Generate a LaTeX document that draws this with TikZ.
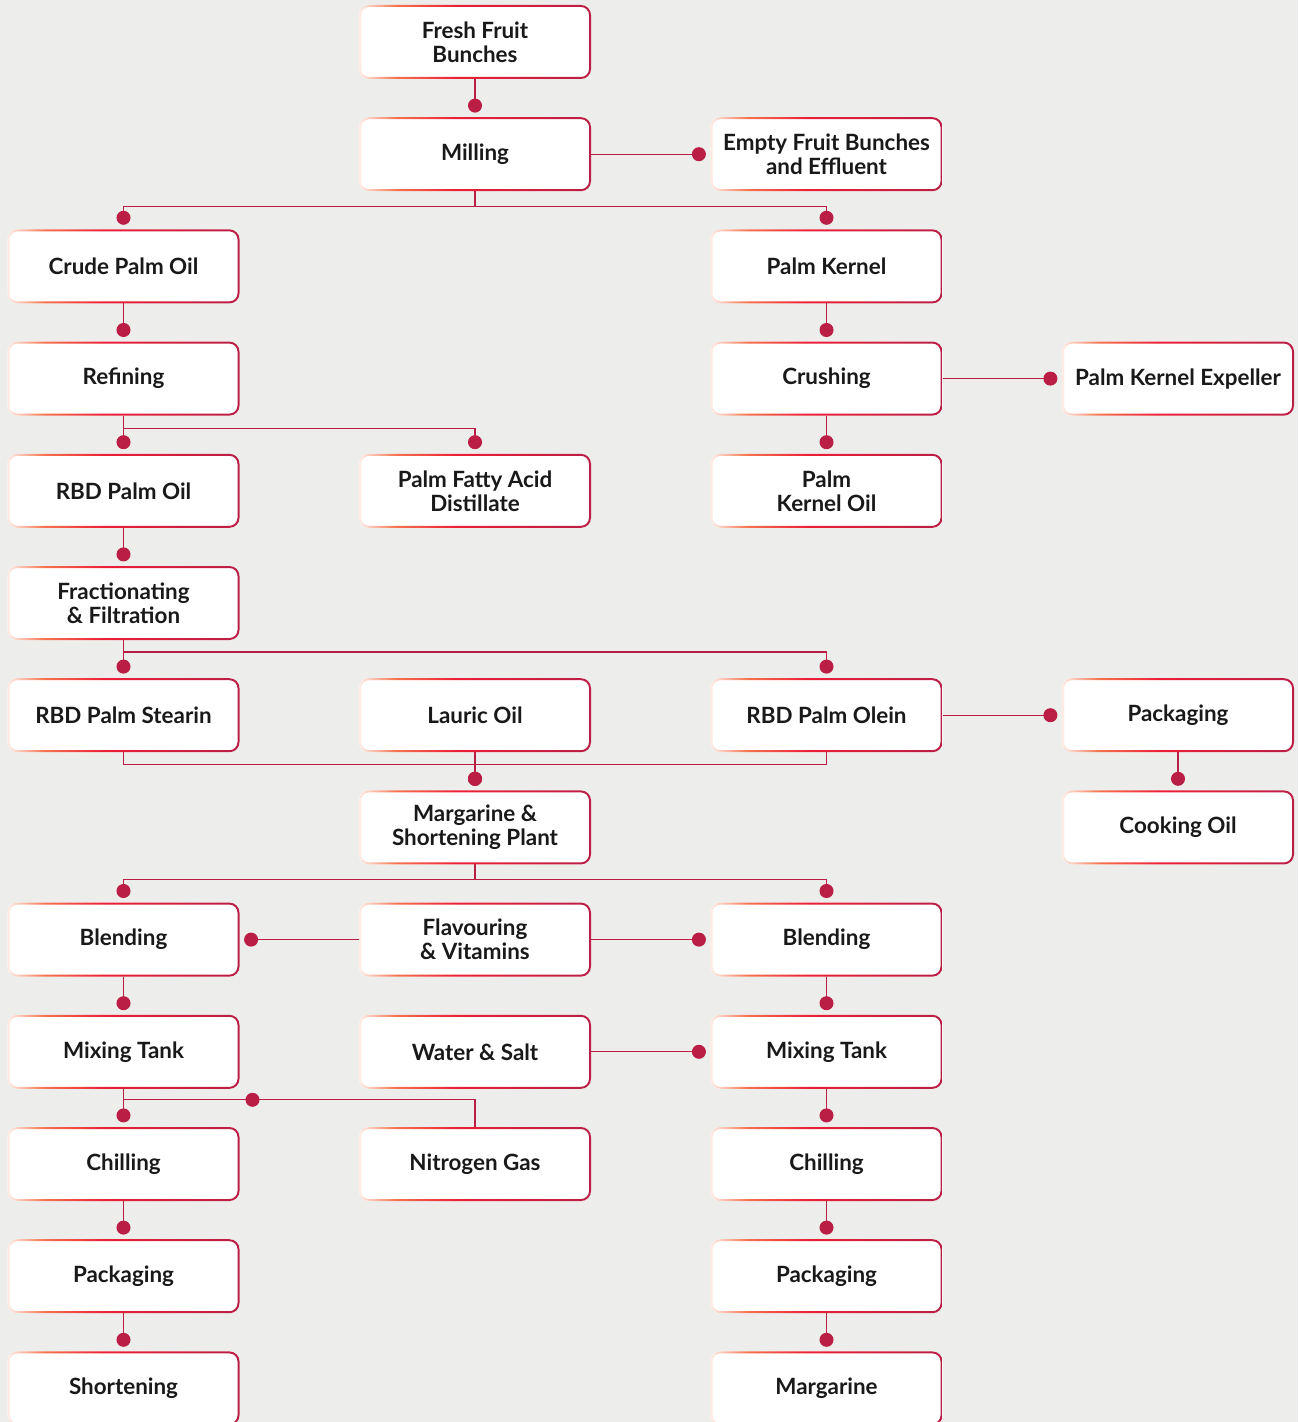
\documentclass[tikz,border=0pt]{standalone}
\usepackage{fontspec}
\setmainfont{Lato}
\usepackage{xcolor}
\definecolor{palmred}{HTML}{BA1E45}
\definecolor{rimlight}{HTML}{FFEDE6}
\definecolor{rimorange}{HTML}{F5734F}
\definecolor{rimmid}{HTML}{EC1F36}
\definecolor{bggray}{HTML}{EDEEEC}
\usepackage{tikz}
\usetikzlibrary{positioning,arrows.meta,calc}
\pgfdeclarehorizontalshading{rimshade}{100bp}{color(0bp)=(rimlight); color(25bp)=(rimlight);
  color(33bp)=(rimorange); color(46bp)=(rimmid); color(75bp)=(palmred); color(100bp)=(palmred)}
\tikzset{
  pbox/.style ={rectangle, rounded corners=5pt, fill=white, minimum width=116pt,
                minimum height=37pt, align=center, inner xsep=1pt, outer sep=0pt,
                font=\fontsize{11.2}{12}\selectfont\bfseries, text=black!90},
  rim/.style  ={shading=rimshade, even odd rule},
  link/.style ={draw=palmred, line width=0.65pt, -{Circle[length=7pt]}, shorten >=2.3pt},
  wire/.style ={draw=palmred, line width=0.65pt},
}

\begin{document}
\begin{tikzpicture}[x=0.5pt, y=-0.5pt, node distance=19.1pt and 59.75pt]
  \fill[bggray] (0,0) rectangle (1298,1422);
  \useasboundingbox (0,0) rectangle (1298,1422);

  % milling
  \node[pbox] (ffb) at (475,42) {Fresh Fruit\\Bunches};
  \node[pbox, below=of ffb] (mill) {Milling};
  \node[pbox, right=of mill] (efb) {Empty Fruit Bunches\\and Effluent};
  \node[pbox] (cpo) at (123.5,266.4) {Crude Palm Oil};
  \node[pbox, below=of efb] (pk) {Palm Kernel};
  \node[pbox, below=of cpo] (refin) {Refining};
  \node[pbox, below=of pk] (crush) {Crushing};
  \node[pbox, right=of crush] (pke) {Palm Kernel Expeller};
  \node[pbox, below=of refin] (rbdpo) {RBD Palm Oil};
  \node[pbox, right=of rbdpo] (pfad) {Palm Fatty Acid\\Distillate};
  \node[pbox, below=of crush] (pko) {Palm\\Kernel Oil};
  \node[pbox, below=of rbdpo] (fract) {Fractionating\\\& Filtration};
  % fractions
  \node[pbox, below=of fract] (stear) {RBD Palm Stearin};
  \node[pbox, right=of stear] (lauric) {Lauric Oil};
  \node[pbox, right=of lauric] (olein) {RBD Palm Olein};
  \node[pbox, right=of olein] (packo) {Packaging};
  \node[pbox, below=of packo] (cook) {Cooking Oil};
  \node[pbox, below=of lauric] (marg) {Margarine \&\\Shortening Plant};
  % margarine plant
  \node[pbox, below=of marg] (flav) {Flavouring\\\& Vitamins};
  \node[pbox, left=of flav] (blendl) {Blending};
  \node[pbox, right=of flav] (blendr) {Blending};
  \node[pbox, below=of blendl] (mixl) {Mixing Tank};
  \node[pbox, below=of flav] (water) {Water \& Salt};
  \node[pbox, below=of blendr] (mixr) {Mixing Tank};
  \node[pbox, below=of mixl] (chilll) {Chilling};
  \node[pbox, below=of water] (nitro) {Nitrogen Gas};
  \node[pbox, below=of mixr] (chillr) {Chilling};
  \node[pbox, below=of chilll] (packl) {Packaging};
  \node[pbox, below=of chillr] (packr) {Packaging};
  \node[pbox, below=of packl] (short) {Shortening};
  \node[pbox, below=of packr] (margn) {Margarine};

  \foreach \n in {ffb,mill,efb,cpo,pk,refin,crush,pke,rbdpo,pfad,pko,fract,stear,lauric,
                  olein,packo,cook,marg,flav,blendl,blendr,mixl,water,mixr,chilll,nitro,
                  chillr,packl,packr,short,margn}
    \shade[rim, rounded corners=5pt] (\n.south west) rectangle (\n.north east)
      [rounded corners=4pt] ([shift={(1pt,1pt)}]\n.south west) rectangle ([shift={(-1pt,-1pt)}]\n.north east);

  \draw[link] (ffb.south) -- (mill.north);
  \draw[link] (mill.east) -- (efb.west);
  \draw[link] (mill.south) -- ++(0,15) -| (cpo.north);
  \draw[link] (mill.south) -- ++(0,15) -| (pk.north);
  \draw[link] (cpo.south) -- (refin.north);
  \draw[link] (refin.south) -- (rbdpo.north);
  \draw[link] (refin.south) -- ++(0,13) -| (pfad.north);
  \draw[link] (pk.south) -- (crush.north);
  \draw[link] (crush.east) -- (pke.west);
  \draw[link] (crush.south) -- (pko.north);
  \draw[link] (rbdpo.south) -- (fract.north);
  \draw[link] (fract.south) -- (stear.north);
  \draw[link] (fract.south) -- ++(0,12) -| (olein.north);
  \draw[link] (olein.east) -- (packo.west);
  \draw[link] (packo.south) -- (cook.north);
  \draw[link] (stear.south) -- ++(0,12) -| (marg.north);
  \draw[link] (olein.south) -- ++(0,12) -| (marg.north);
  \draw[link] (lauric.south) -- (marg.north);
  \draw[link] (marg.south) -- ++(0,15) -| (blendl.north);
  \draw[link] (marg.south) -- ++(0,15) -| (blendr.north);
  \draw[link] (flav.west) -- (blendl.east);
  \draw[link] (flav.east) -- (blendr.west);
  \draw[link] (blendl.south) -- (mixl.north);
  \draw[link] (blendr.south) -- (mixr.north);
  \draw[link] (water.east) -- (mixr.west);
  \draw[link] (mixl.south) -- (chilll.north);
  \draw[link] (mixr.south) -- (chillr.north);
  % nitrogen joins the left line
  \coordinate (njoin) at ($(mixl.south)+(0,11)$);
  \draw[wire] (nitro.north) |- (njoin);
  \fill[palmred] ($(njoin -| mixl.east)+(13,0)$) circle (3.5pt);
  \draw[link] (chilll.south) -- (packl.north);
  \draw[link] (chillr.south) -- (packr.north);
  \draw[link] (packl.south) -- (short.north);
  \draw[link] (packr.south) -- (margn.north);
\end{tikzpicture}
\end{document}
